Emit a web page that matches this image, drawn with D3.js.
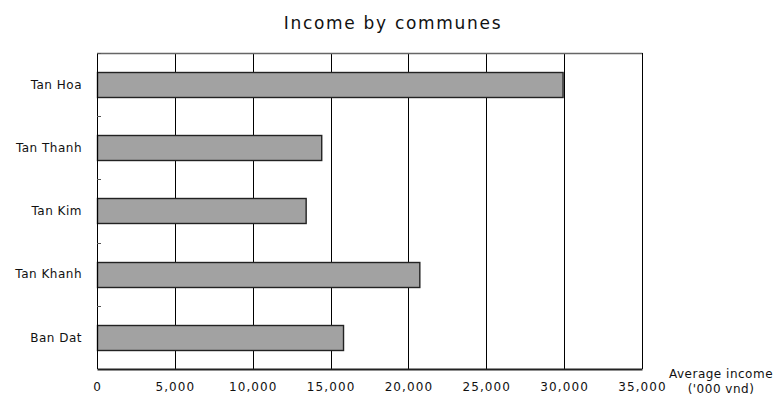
<!DOCTYPE html>
<html>
<head>
<meta charset="utf-8">
<script src="https://cdn.jsdelivr.net/npm/d3@7"></script>
<style>
  html, body { margin: 0; padding: 0; background: #fff; }
  svg { display: block; font-family: "DejaVu Sans", sans-serif; }
</style>
</head>
<body>
<svg id="chart" width="779" height="396"></svg>
<script>
// Average income per commune ('000 vnd)
const communes = ["Tan Hoa", "Tan Thanh", "Tan Kim", "Tan Khanh", "Ban Dat"];
const incomes = [29900, 14400, 13400, 20700, 15800];
const xTicks = [0, 5000, 10000, 15000, 20000, 25000, 30000, 35000];
const titleText = "Income by communes";
const xTitleLines = ["Average income", "('000 vnd)"];

const svg = d3.select("#chart");
const plotLeft = 97, plotRight = 642, plotTop = 53, plotBottom = 369;

const x = d3.scaleLinear().domain([0, 35000]).range([plotLeft, plotRight]);
const y = d3.scaleBand().domain(communes).range([plotTop, plotBottom])
  .paddingInner(0.6).paddingOuter(0.3);

// Title
svg.append("text")
  .attr("x", 393).attr("y", 29)
  .attr("text-anchor", "middle")
  .attr("font-size", 17)
  .attr("letter-spacing", 1.7)
  .attr("fill", "#111")
  .text(titleText);

// Vertical gridlines
svg.append("g")
  .selectAll("line")
  .data(xTicks.slice(1, -1))
  .join("line")
  .attr("x1", d => Math.round(x(d)) + 0.5).attr("x2", d => Math.round(x(d)) + 0.5)
  .attr("y1", plotTop).attr("y2", plotBottom)
  .attr("stroke", "#000").attr("stroke-width", 1);

// Plot frame: top (grey) and right
svg.append("line").attr("x1", plotLeft).attr("x2", plotRight + 0.5)
  .attr("y1", plotTop + 0.5).attr("y2", plotTop + 0.5)
  .attr("stroke", "#666").attr("stroke-width", 1.3);
svg.append("line").attr("x1", plotRight + 0.5).attr("x2", plotRight + 0.5)
  .attr("y1", plotTop).attr("y2", plotBottom)
  .attr("stroke", "#000").attr("stroke-width", 1);

// Bars
svg.append("g")
  .selectAll("rect")
  .data(communes.map((c, i) => ({ c, v: incomes[i] })))
  .join("rect")
  .attr("x", x(0) + 0.5)
  .attr("y", d => Math.round(y(d.c)) + 0.5)
  .attr("width", d => x(d.v) - x(0))
  .attr("height", Math.round(y.bandwidth()))
  .attr("fill", "#a2a2a2")
  .attr("stroke", "#222")
  .attr("stroke-width", 1.4);

// Left axis with category labels and inner ticks at cell boundaries
const yAxis = svg.append("g");
yAxis.append("line").attr("x1", plotLeft + 0.5).attr("x2", plotLeft + 0.5)
  .attr("y1", plotTop).attr("y2", plotBottom)
  .attr("stroke", "#000").attr("stroke-width", 1);
const step = y.step();
const cellTop = y.range()[0];
yAxis.selectAll("line.tick")
  .data(d3.range(communes.length))
  .join("line")
  .attr("class", "tick")
  .attr("x1", plotLeft).attr("x2", plotLeft + 4)
  .attr("y1", i => Math.round(cellTop + i * step) + 0.5)
  .attr("y2", i => Math.round(cellTop + i * step) + 0.5)
  .attr("stroke", "#555").attr("stroke-width", 1);
yAxis.selectAll("text")
  .data(communes)
  .join("text")
  .attr("x", plotLeft - 15)
  .attr("y", d => y(d) + y.bandwidth() / 2)
  .attr("dy", "0.35em")
  .attr("text-anchor", "end")
  .attr("font-size", 12)
  .attr("letter-spacing", 0.5)
  .attr("fill", "#111")
  .text(d => d);

// Bottom axis
const xAxis = svg.append("g")
  .attr("transform", `translate(0,${plotBottom})`)
  .call(d3.axisBottom(x).tickValues(xTicks).tickSize(0).tickPadding(13)
    .tickFormat(d3.format(",")));
xAxis.select(".domain").attr("stroke", "#222").attr("stroke-width", 2);
xAxis.selectAll("text")
  .attr("font-size", 12)
  .attr("font-family", "DejaVu Sans, sans-serif")
  .attr("letter-spacing", 1.1)
  .attr("fill", "#111");

// Axis title
svg.append("g")
  .selectAll("text")
  .data(xTitleLines)
  .join("text")
  .attr("x", 721)
  .attr("y", (d, i) => 378 + i * 15)
  .attr("text-anchor", "middle")
  .attr("font-size", 12)
  .attr("letter-spacing", 0.5)
  .attr("fill", "#111")
  .text(d => d);
</script>
</body>
</html>
